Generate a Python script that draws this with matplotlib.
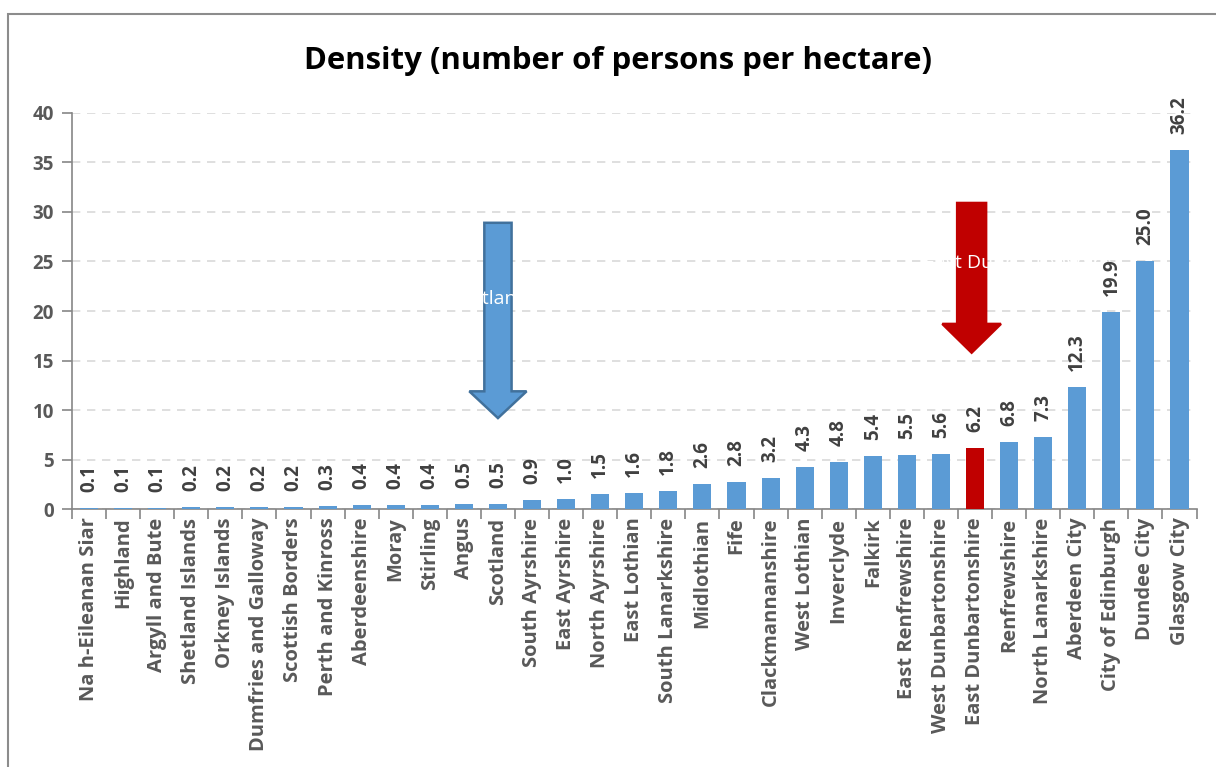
import numpy as np
import matplotlib
matplotlib.use('Agg')
import matplotlib.pyplot as plt
from matplotlib.patches import FancyArrow, Rectangle
from matplotlib.ticker import MultipleLocator

plt.rcParams['font.family'] = ['Open Sans', 'DejaVu Sans']

# data
areas = ['Na h-Eileanan Siar', 'Highland', 'Argyll and Bute', 'Shetland Islands', 'Orkney Islands',
         'Dumfries and Galloway', 'Scottish Borders', 'Perth and Kinross', 'Aberdeenshire', 'Moray',
         'Stirling', 'Angus', 'Scotland', 'South Ayrshire', 'East Ayrshire', 'North Ayrshire',
         'East Lothian', 'South Lanarkshire', 'Midlothian', 'Fife', 'Clackmannanshire', 'West Lothian',
         'Inverclyde', 'Falkirk', 'East Renfrewshire', 'West Dunbartonshire', 'East Dunbartonshire',
         'Renfrewshire', 'North Lanarkshire', 'Aberdeen City', 'City of Edinburgh', 'Dundee City',
         'Glasgow City']
density = [0.1, 0.1, 0.1, 0.2, 0.2, 0.2, 0.2, 0.3, 0.4, 0.4, 0.4, 0.5, 0.5, 0.9, 1.0, 1.5, 1.6, 1.8,
           2.6, 2.8, 3.2, 4.3, 4.8, 5.4, 5.5, 5.6, 6.2, 6.8, 7.3, 12.3, 19.9, 25.0, 36.2]
highlight = 'East Dunbartonshire'
ref_area = 'Scotland'

blue = '#5B9BD5'
red = '#C00000'
grey = '#595959'

fig = plt.figure(figsize=(12.16, 7.67), dpi=100)
ax = fig.add_axes([0.0592, 0.336, 0.9248, 0.517])

x = np.arange(len(areas))
colors = [red if a == highlight else blue for a in areas]
bars = ax.bar(x, density, width=0.53, color=colors, zorder=3)

# value labels
for xi, v in zip(x, density):
    ax.annotate(f'{v:.1f}', (xi, v), xytext=(0, 11.5), textcoords='offset points',
                rotation=90, ha='center', va='bottom', fontsize=13.5, fontweight='bold',
                color='#404040', zorder=7)

ax.set_xlim(-0.5, len(areas) - 0.5)
ax.set_ylim(0, 40)
ax.yaxis.set_major_locator(MultipleLocator(5))
ax.grid(axis='y', color='#D9D9D9', linestyle=(0, (5, 4)), linewidth=1.2, zorder=0)
ax.set_axisbelow(True)

ax.set_xticks(x)
ax.set_xticklabels(areas, rotation=90, fontsize=14.5, fontweight='bold', color=grey)
ax.set_xticks(np.arange(-0.5, len(areas)), minor=True)
ax.tick_params(axis='x', which='major', length=0, pad=6)
ax.tick_params(axis='x', which='minor', length=7, color='#868686', width=1.2)
ax.tick_params(axis='y', length=7, color='#868686', width=1.2, pad=6)
for lab in ax.get_yticklabels():
    lab.set_fontsize(13.5)
    lab.set_fontweight('bold')
    lab.set_color(grey)

for s in ['top', 'right']:
    ax.spines[s].set_visible(False)
for s in ['left', 'bottom']:
    ax.spines[s].set_color('#868686')
    ax.spines[s].set_linewidth(1.2)

fig.text(0.508, 0.920, 'Density (number of persons per hectare)', ha='center', va='center',
         fontsize=22.4, fontweight='bold', color='black')

# arrows pointing at Scotland and East Dunbartonshire
def down_arrow(xc, top, tip, head_len, shaft_w, head_w, fc, ec, label, shift, half, ty):
    arr = FancyArrow(xc, top, 0, -(top - tip), width=shaft_w, head_width=head_w,
                     head_length=head_len, length_includes_head=True,
                     facecolor=fc, edgecolor=ec, linewidth=1.8, zorder=5)
    ax.add_patch(arr)
    clip = Rectangle((xc - half, 0), 2 * half, 40, transform=ax.transData, visible=False)
    ax.add_patch(clip)
    t = ax.text(xc + shift, ty, label, ha='center', va='center',
                fontsize=14, color='white', zorder=6)
    t.set_clip_path(clip)
    return arr

i_sc = areas.index(ref_area)
i_ed = areas.index(highlight)
down_arrow(i_sc, 28.9, 9.2, 2.7, 0.8, 1.68, blue, '#41719C', ref_area, -0.25, 0.7, 21.2)
down_arrow(i_ed - 0.1, 30.9, 15.8, 2.9, 0.85, 1.72, red, red, highlight, 1.35, 1.3, 24.8)

# outer chart border
fig.patches.append(Rectangle((8 / 1216, -0.1), 1.2, 1.1 - 14 / 767, transform=fig.transFigure,
                             fill=False, edgecolor='#8C8C8C', linewidth=1.5))

fig.savefig('out.png', dpi=100)
